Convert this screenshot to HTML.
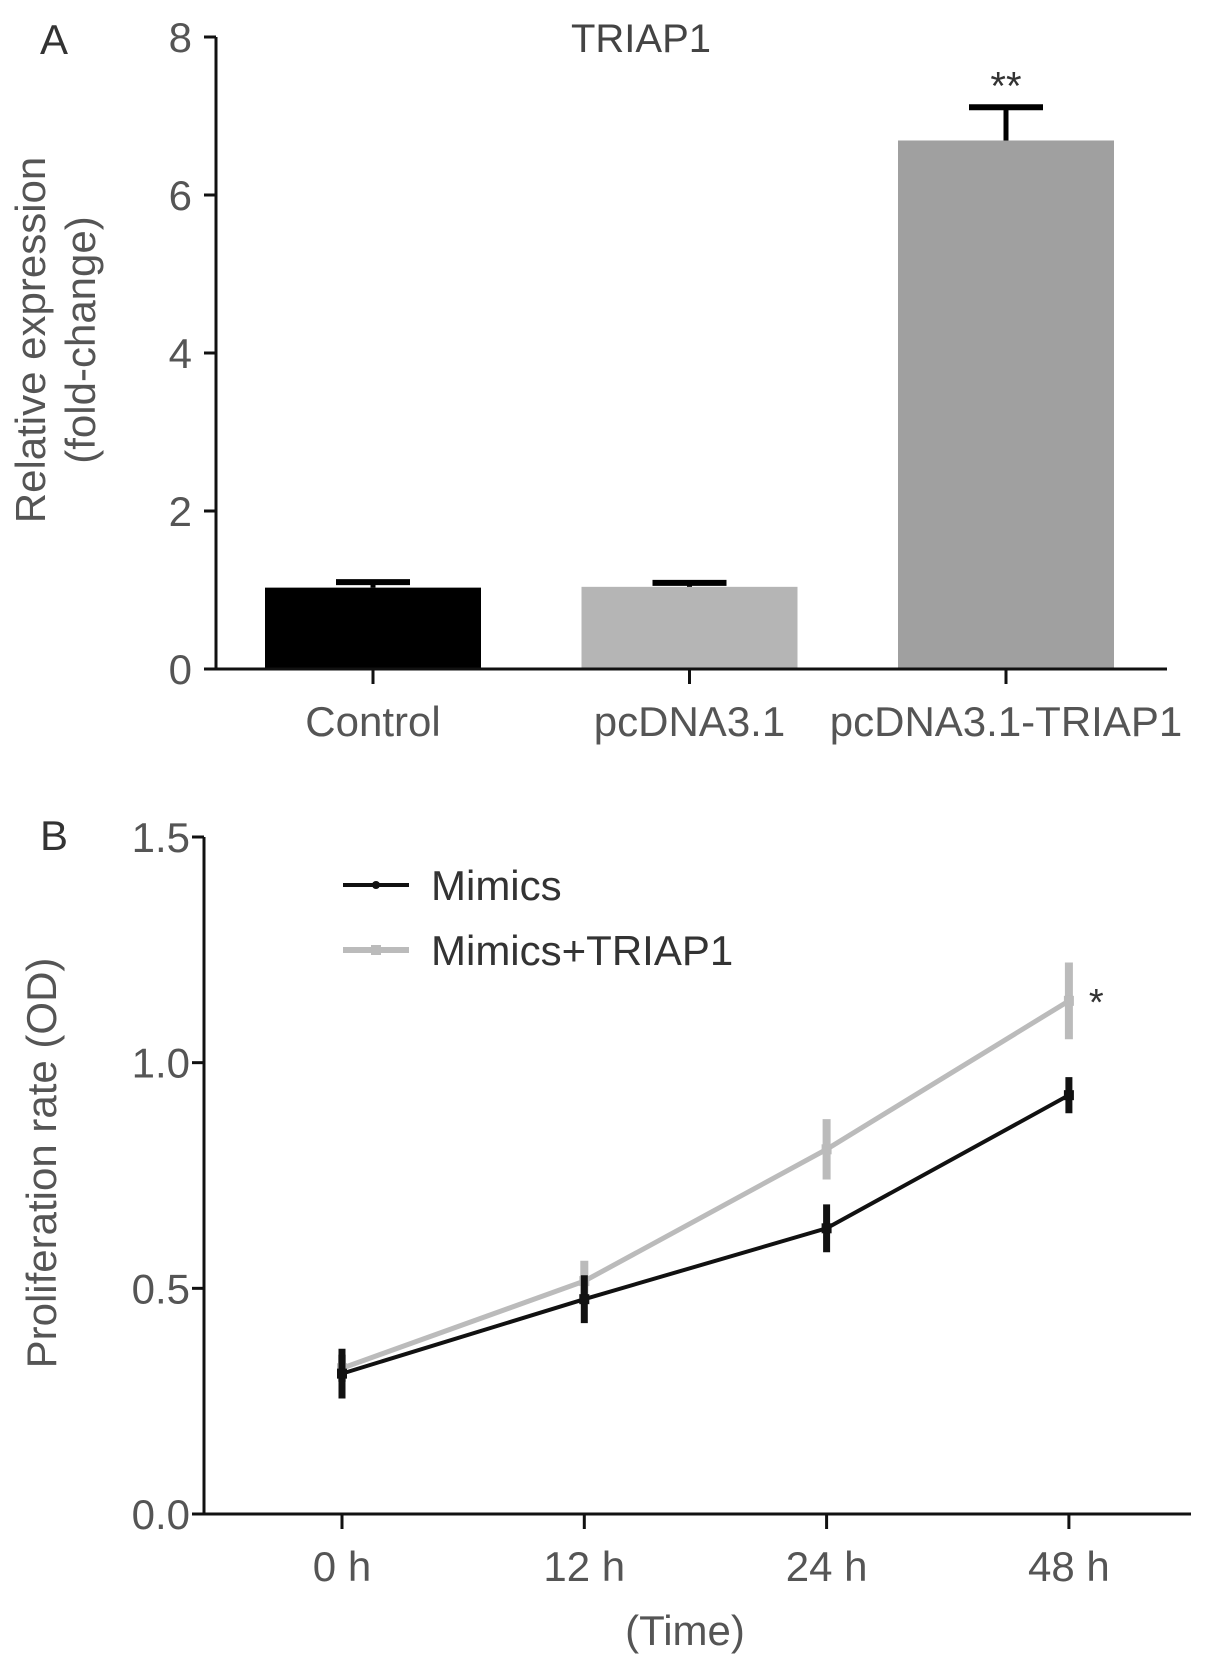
<!DOCTYPE html>
<html><head><meta charset="utf-8"><style>
html,body{margin:0;padding:0;background:#fff;}
svg{display:block;font-family:"Liberation Sans",sans-serif;}
</style></head><body>
<svg id="fig" width="1205" height="1665" viewBox="0 0 1205 1665">
<text x="40" y="54" font-size="42" fill="#333">A</text>
<text x="641" y="52" font-size="40" fill="#444" text-anchor="middle">TRIAP1</text>
<g transform="translate(45,340) rotate(-90)">
<text x="0" y="0" font-size="42" fill="#555" text-anchor="middle">Relative expression</text>
<text x="0" y="50" font-size="42" fill="#555" text-anchor="middle">(fold-change)</text>
</g>
<g id="chartA"></g>
<text x="40" y="850" font-size="42" fill="#333">B</text>
<text transform="translate(56,1163) rotate(-90)" font-size="42" fill="#555" text-anchor="middle">Proliferation rate (OD)</text>
<text x="685" y="1645" font-size="42" fill="#555" text-anchor="middle">(Time)</text>
<g id="chartB"></g>
<g>
<g>
<line x1="343" y1="885" x2="409" y2="885" stroke="#111" stroke-width="4"/><circle cx="376" cy="885" r="4" fill="#111"/>
<text x="431" y="900" font-size="42" fill="#333">Mimics</text></g>
<g>
<line x1="343" y1="950" x2="409" y2="950" stroke="#bbb" stroke-width="6"/><rect x="371" y="945" width="10" height="10" fill="#bbb"/>
<text x="431" y="965" font-size="42" fill="#333">Mimics+TRIAP1</text></g>
</g>
</svg>
<script>
const barCategories = ["Control","pcDNA3.1","pcDNA3.1-TRIAP1"];
const barValues = [1.03, 1.04, 6.69];
const barErrors = [0.07, 0.05, 0.42];
const barTicks = [0,2,4,6,8];
const timeLabels = ["0 h","12 h","24 h","48 h"];
const mimicsValues = [0.311, 0.476, 0.633, 0.928];
const mimicsErrors = [0.055, 0.053, 0.053, 0.04];
const triapValues = [0.323, 0.516, 0.808, 1.137];
const triapErrors = [0.03, 0.045, 0.067, 0.085];
const lineTicks = ["0.0","0.5","1.0","1.5"];

const NS="http://www.w3.org/2000/svg";
function mk(parent,tag,attrs){const e=document.createElementNS(NS,tag);for(const k in attrs)e.setAttribute(k,attrs[k]);parent.appendChild(e);return e;}

// Chart A
const A=document.getElementById('chartA');
const ay=v=>669-v*(669-37)/8;
const ax=i=>373+i*316.5;
const barColors=["#000","#b5b5b5","#a0a0a0"];
barValues.forEach((v,i)=>{
  const g=mk(A,'g',{});
  
  
  mk(g,'rect',{x:ax(i)-108,y:ay(v),width:216,height:ay(0)-ay(v),fill:barColors[i]});
  mk(g,'line',{x1:ax(i),x2:ax(i),y1:ay(v),y2:ay(v+barErrors[i]),stroke:'#000','stroke-width':5});
  mk(g,'line',{x1:ax(i)-37,x2:ax(i)+37,y1:ay(v+barErrors[i]),y2:ay(v+barErrors[i]),stroke:'#000','stroke-width':6});
});
mk(A,'line',{x1:216,x2:216,y1:37,y2:670,stroke:'#111','stroke-width':3});
mk(A,'line',{x1:215,x2:1167,y1:669,y2:669,stroke:'#111','stroke-width':3});
barTicks.forEach(t=>{
  mk(A,'line',{x1:204,x2:216,y1:ay(t),y2:ay(t),stroke:'#111','stroke-width':3});
  const tx=mk(A,'text',{x:192,y:ay(t)+15,'font-size':42,fill:'#555','text-anchor':'end'});
  tx.textContent=t;
  
  
});
barCategories.forEach((c,i)=>{
  mk(A,'line',{x1:ax(i),x2:ax(i),y1:669,y2:684,stroke:'#111','stroke-width':3});
  const tx=mk(A,'text',{x:ax(i),y:736,'font-size':42,fill:'#555','text-anchor':'middle'});
  tx.textContent=c;
  
  
});
const st=mk(A,'text',{x:ax(2),y:ay(barValues[2]+barErrors[2])-8,'font-size':40,fill:'#333','text-anchor':'middle'});
st.textContent='**';



// Chart B
const B=document.getElementById('chartB');
const by=v=>1514-v*(1514-837)/1.5;
const bx=i=>342+i*242.3;
mk(B,'line',{x1:204,x2:204,y1:837,y2:1515,stroke:'#111','stroke-width':3});
mk(B,'line',{x1:203,x2:1191,y1:1514,y2:1514,stroke:'#111','stroke-width':3});
lineTicks.forEach(t=>{
  const v=parseFloat(t);
  mk(B,'line',{x1:192,x2:204,y1:by(v),y2:by(v),stroke:'#111','stroke-width':3});
  const tx=mk(B,'text',{x:190,y:by(v)+15,'font-size':42,fill:'#555','text-anchor':'end'});
  tx.textContent=t;
  
  
});
timeLabels.forEach((c,i)=>{
  mk(B,'line',{x1:bx(i),x2:bx(i),y1:1514,y2:1529,stroke:'#111','stroke-width':3});
  const tx=mk(B,'text',{x:bx(i),y:1581,'font-size':42,fill:'#555','text-anchor':'middle'});
  tx.textContent=c;
  
  
});
function series(vals,errs,color,w,ew,name){
  const g=mk(B,'g',{});
  
  
  mk(g,'polyline',{points:vals.map((v,i)=>bx(i)+','+by(v)).join(' '),fill:'none',stroke:color,'stroke-width':w});
  vals.forEach((v,i)=>{
    mk(g,'line',{x1:bx(i),x2:bx(i),y1:by(v-errs[i]),y2:by(v+errs[i]),stroke:color,'stroke-width':ew});
    mk(g,'rect',{x:bx(i)-5,y:by(v)-5,width:10,height:10,fill:color});
  });
}
series(triapValues,triapErrors,'#bbb',5,8,'series-mimics-triap1');
series(mimicsValues,mimicsErrors,'#111',4,7,'series-mimics');
const s2=mk(B,'text',{x:bx(3)+20,y:by(triapValues[3])+14,'font-size':38,fill:'#333'});
s2.textContent='*';


</script>
</body></html>
